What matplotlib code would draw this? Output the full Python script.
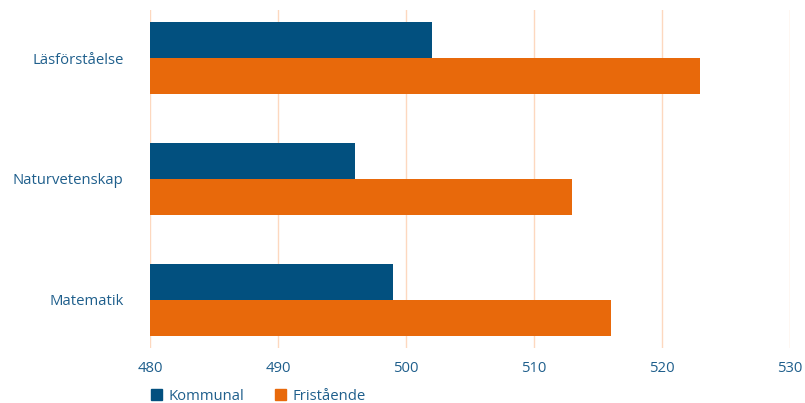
import matplotlib
matplotlib.use('Agg')
import matplotlib.pyplot as plt
import numpy as np
from matplotlib.patches import Patch

categories = ['Läsförståelse', 'Naturvetenskap', 'Matematik']
kommunal = [502, 496, 499]
fristaende = [523, 513, 516]
series_names = ['Kommunal', 'Fristående']

blue = '#02507f'
orange = '#e8690b'
text_color = '#1f5f8c'
grid_color = '#fdd8bf'

plt.rcParams['font.family'] = ['Open Sans', 'DejaVu Sans']

fig = plt.figure(figsize=(8.05, 4.03), dpi=100)
ax = fig.add_axes([150 / 805, 55 / 403, 640 / 805, 338 / 403])

y = np.arange(len(categories))
h = 0.3
ax.barh(y - h / 2, [v - 480 for v in kommunal], left=480, height=h, color=blue, zorder=3)
ax.barh(y + h / 2, [v - 480 for v in fristaende], left=480, height=h, color=orange, zorder=3)

ax.set_xlim(480, 530)
ax.set_ylim(2.4, -0.4)
ax.set_xticks(range(480, 531, 10))
ax.set_yticks(y)
ax.set_yticklabels(categories)
ax.grid(axis='x', color=grid_color, linewidth=1, zorder=0)
for s in ax.spines.values():
    s.set_visible(False)
ax.tick_params(axis='both', length=0, labelsize=10.7, colors=text_color)
ax.tick_params(axis='y', pad=19)
ax.tick_params(axis='x', pad=9)

handles = [Patch(color=blue), Patch(color=orange)]
fig.legend(handles, series_names, loc='center left', bbox_to_anchor=(151 / 805, 7 / 403),
           ncol=2, frameon=False, fontsize=10.7, labelcolor=text_color,
           borderpad=0, borderaxespad=0,
           handlelength=0.75, handleheight=0.75, handletextpad=0.4, columnspacing=2.1)

fig.savefig('out.png', dpi=100)
